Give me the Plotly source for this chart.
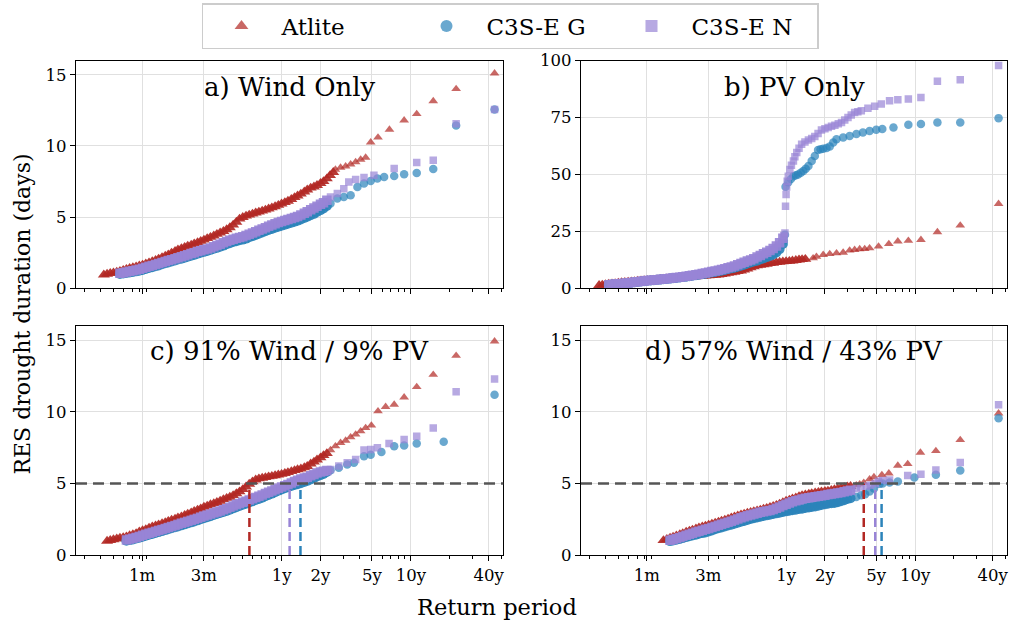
import plotly.graph_objects as go

# ======================= data =======================
# return period (years) sampling grid used for the densely populated part of each curve
rp_grid = [0.0355, 0.0376, 0.0398, 0.0422, 0.0447, 0.0473, 0.0501, 0.0531, 0.0562, 0.0596,
           0.0631, 0.0668, 0.0708, 0.0750, 0.0794, 0.0841, 0.0891, 0.0944, 0.100, 0.106,
           0.112, 0.119, 0.126, 0.133, 0.141, 0.150, 0.158, 0.168, 0.178, 0.188,
           0.200, 0.211, 0.224, 0.237, 0.251, 0.266, 0.282, 0.299, 0.316, 0.335,
           0.355, 0.376, 0.398, 0.422, 0.447, 0.473, 0.501, 0.531, 0.562, 0.596,
           0.631, 0.668, 0.708, 0.750, 0.794, 0.841, 0.891, 0.944, 1.00, 1.06,
           1.12, 1.19, 1.26, 1.33, 1.41, 1.50, 1.58, 1.68, 1.78, 1.88,
           2.00, 2.11, 2.24, 2.37, 2.51, 2.66, 2.82, 2.99, 3.16]

series_names = ["Atlite", "C3S-E G", "C3S-E N"]

# ---- a) Wind Only ----
a_atlite_from = 0.0422
a_atlite_dense = [0.95, 1.0, 1.05, 1.1, 1.14, 1.19, 1.27, 1.34, 1.4, 1.46,
                  1.52, 1.58, 1.64, 1.72, 1.8, 1.88, 1.97, 2.06, 2.17, 2.26,
                  2.36, 2.48, 2.6, 2.7, 2.8, 2.89, 2.97, 3.05, 3.13, 3.22,
                  3.31, 3.4, 3.5, 3.59, 3.69, 3.8, 3.9, 4.0, 4.13, 4.27,
                  4.45, 4.65, 4.87, 4.99, 5.08, 5.15, 5.22, 5.3, 5.36, 5.43,
                  5.5, 5.58, 5.66, 5.74, 5.84, 5.93, 6.03, 6.13, 6.25, 6.38,
                  6.5, 6.63, 6.78, 6.92, 7.05, 7.13, 7.23, 7.37, 7.51, 7.7,
                  7.93, 8.15]
a_atlite_tail_rp = [2.61, 2.86, 3.13, 3.42, 3.74, 4.09, 4.47, 4.89, 5.57, 6.83, 8.87, 11.1, 14.9, 22.4, 44.4]
a_atlite_tail_days = [8.34, 8.48, 8.57, 8.71, 8.87, 9.04, 9.18, 10.25, 10.6, 11.15, 11.8, 12.25, 13.15, 14.0, 15.1]

a_g_from = 0.0562
a_g_dense = [1.0, 1.04, 1.07, 1.11, 1.15, 1.19, 1.24, 1.29, 1.36, 1.42,
             1.48, 1.55, 1.61, 1.69, 1.76, 1.82, 1.89, 1.96, 2.02, 2.08,
             2.15, 2.22, 2.29, 2.35, 2.43, 2.5, 2.56, 2.62, 2.7, 2.78,
             2.84, 2.92, 3.0, 3.09, 3.17, 3.25, 3.31, 3.37, 3.42, 3.49,
             3.58, 3.66, 3.75, 3.84, 3.92, 4.01, 4.09, 4.17, 4.25, 4.33,
             4.4, 4.47, 4.54, 4.61, 4.68, 4.75, 4.84, 4.94, 5.03, 5.13,
             5.23, 5.36, 5.48, 5.61, 5.78]
a_g_tail_rp = [2.39, 2.70, 3.03, 3.42, 3.86, 4.34, 4.89, 5.51, 6.21, 7.43, 8.87, 11.1, 14.9, 22.4, 44.4]
a_g_tail_days = [5.96, 6.3, 6.42, 6.54, 7.12, 7.36, 7.54, 7.71, 7.82, 7.89, 8.01, 8.1, 8.38, 11.44, 12.56]

a_n_from = 0.0562
a_n_dense = [1.06, 1.1, 1.15, 1.19, 1.24, 1.29, 1.34, 1.4, 1.47, 1.54,
             1.6, 1.67, 1.74, 1.82, 1.89, 1.95, 2.01, 2.08, 2.15, 2.22,
             2.29, 2.36, 2.44, 2.5, 2.58, 2.64, 2.7, 2.76, 2.83, 2.92,
             3.0, 3.1, 3.2, 3.29, 3.37, 3.45, 3.52, 3.57, 3.62, 3.71,
             3.8, 3.89, 3.98, 4.07, 4.16, 4.26, 4.35, 4.44, 4.53, 4.62,
             4.7, 4.77, 4.84, 4.91, 4.97, 5.04, 5.15, 5.27, 5.38, 5.52,
             5.64, 5.77, 5.9, 6.01, 6.18]
a_n_tail_rp = [2.39, 2.70, 3.03, 3.31, 3.74, 4.34, 5.18, 7.43, 11.1, 14.9, 22.4, 44.4]
a_n_tail_days = [6.42, 6.66, 7.0, 7.47, 7.64, 7.78, 7.94, 8.41, 8.83, 8.99, 11.56, 12.56]

# ---- b) PV Only ----
b_atlite_from = 0.0355
b_atlite_dense = [1.3, 1.5, 1.7, 1.85, 2.0, 2.15, 2.3, 2.5, 2.63, 2.77,
                  2.9, 3.02, 3.15, 3.28, 3.38, 3.47, 3.57, 3.68, 3.8, 3.92,
                  4.04, 4.18, 4.32, 4.42, 4.48, 4.53, 4.59, 4.68, 4.8, 4.97,
                  5.1, 5.2, 5.34, 5.47, 5.6, 5.7, 5.79, 5.9, 6.1, 6.36,
                  6.63, 6.86, 7.08, 7.38, 7.69, 8.07, 8.53, 9.05, 9.55, 9.92,
                  10.2, 10.42, 10.66, 10.9, 11.08, 11.34, 11.53, 11.68, 11.8, 11.92,
                  12.06, 12.27, 12.48, 12.65, 12.8]
b_atlite_tail_rp = [1.62, 1.72, 1.94, 2.18, 2.46, 2.77, 3.11, 3.40, 3.72, 4.07, 4.44, 5.21, 6.26, 7.35, 8.87, 11.1, 14.9, 22.4, 44.4]
b_atlite_tail_days = [13.2, 13.9, 14.7, 15.1, 15.4, 15.7, 16.6, 16.9, 17.2, 17.3, 17.6, 18.4, 19.5, 20.6, 20.9, 21.3, 24.7, 27.6, 37.1]

b_g_from = 0.0422
b_g_dense = [1.45, 1.62, 1.75, 1.88, 2.0, 2.12, 2.25, 2.45, 2.65, 2.82,
             2.97, 3.12, 3.29, 3.45, 3.58, 3.7, 3.82, 3.94, 4.08, 4.25,
             4.41, 4.57, 4.75, 4.91, 5.09, 5.32, 5.56, 5.77, 5.97, 6.18,
             6.42, 6.72, 6.95, 7.2, 7.48, 7.75, 8.08, 8.42, 8.75, 9.07,
             9.5, 9.93, 10.38, 10.85, 11.3, 11.75, 12.1, 12.7, 13.15, 13.7,
             14.2, 14.87, 15.75, 17.2, 19.5]
b_g_tail_rp = [0.96, 0.98, 0.99, 1.04, 1.09, 1.14, 1.19, 1.24, 1.30, 1.36,
               1.42, 1.49, 1.58, 1.67, 1.77, 1.85, 1.94, 2.06, 2.18, 2.32,
               2.46, 2.77, 3.11, 3.51, 3.94, 4.44, 5.0, 5.57, 6.8, 8.87,
               11.1, 14.9, 22.4, 44.4]
b_g_tail_days = [21.0, 23.5, 44.6, 46.6, 48.0, 49.2, 49.6, 50.0, 50.7, 51.5,
                 52.5, 53.7, 55.9, 58.1, 60.7, 61.0, 61.3, 61.6, 62.2, 64.0,
                 65.4, 66.2, 66.9, 67.7, 68.4, 69.1, 69.6, 69.9, 70.6, 71.8,
                 72.1, 72.8, 72.8, 74.7]

b_n_from = 0.0422
b_n_dense = [1.55, 1.72, 1.86, 1.98, 2.1, 2.22, 2.37, 2.55, 2.75, 2.92,
             3.07, 3.22, 3.39, 3.55, 3.68, 3.8, 3.92, 4.04, 4.18, 4.38,
             4.57, 4.72, 4.9, 5.06, 5.25, 5.47, 5.75, 6.0, 6.22, 6.48,
             6.73, 7.0, 7.33, 7.6, 7.88, 8.22, 8.6, 9.0, 9.35, 9.77,
             10.35, 10.92, 11.47, 11.97, 12.44, 13.0, 13.75, 14.4, 15.2, 15.85,
             16.6, 17.5, 18.6, 20.0, 22.0]
b_n_tail_rp = [0.96, 0.98, 0.99, 1.0, 1.01, 1.02, 1.04, 1.07, 1.10, 1.14,
               1.17, 1.21, 1.26, 1.32, 1.40, 1.49, 1.58, 1.67, 1.77, 1.88,
               2.0, 2.12, 2.25, 2.39, 2.54, 2.69, 2.85, 3.02, 3.2, 3.40,
               3.6, 3.83, 4.31, 4.86, 5.47, 6.34, 7.35, 8.87, 11.1, 14.9,
               22.4, 44.4]
b_n_tail_days = [23.2, 24.3, 36.0, 41.2, 44.5, 47.0, 49.2, 52.2, 54.0, 55.9,
                 57.8, 59.6, 61.5, 63.2, 64.2, 65.1, 65.8, 66.6, 68.0, 69.5,
                 70.0, 70.6, 71.1, 71.6, 72.2, 72.8, 73.9, 75.0, 76.1, 77.2,
                 77.5, 77.9, 79.0, 79.9, 80.9, 82.3, 82.8, 83.1, 83.8, 90.9,
                 91.6, 97.8]

# ---- c) 91% Wind / 9% PV ----
c_atlite_from = 0.0447
c_atlite_dense = [0.97, 1.03, 1.08, 1.13, 1.18, 1.23, 1.28, 1.36, 1.43, 1.51,
                  1.62, 1.71, 1.79, 1.88, 1.97, 2.05, 2.12, 2.2, 2.27, 2.36,
                  2.44, 2.52, 2.6, 2.68, 2.77, 2.86, 2.96, 3.05, 3.15, 3.24,
                  3.35, 3.43, 3.52, 3.6, 3.68, 3.77, 3.88, 3.97, 4.05, 4.16,
                  4.29, 4.42, 4.58, 4.76, 4.96, 5.12, 5.25, 5.33, 5.38, 5.42,
                  5.47, 5.51, 5.55, 5.6, 5.65, 5.71, 5.77, 5.84, 5.91, 5.97,
                  6.02, 6.11, 6.2, 6.37, 6.5, 6.65, 6.8, 6.96, 7.1]
c_atlite_tail_rp = [2.39, 2.61, 2.86, 3.13, 3.42, 3.74, 4.09, 4.47, 4.95, 5.57, 6.38, 7.43, 8.87, 11.1, 14.9, 22.4, 44.4]
c_atlite_tail_days = [7.33, 7.6, 7.84, 8.0, 8.23, 8.42, 8.65, 8.88, 9.05, 10.05, 10.35, 10.51, 11.02, 11.74, 12.6, 13.93, 14.93]

c_g_from = 0.0631
c_g_dense = [0.99, 1.04, 1.09, 1.15, 1.2, 1.27, 1.34, 1.41, 1.47, 1.54,
             1.6, 1.67, 1.74, 1.8, 1.87, 1.94, 2.0, 2.07, 2.14, 2.21,
             2.28, 2.34, 2.42, 2.5, 2.57, 2.64, 2.71, 2.79, 2.86, 2.93,
             3.0, 3.08, 3.17, 3.26, 3.34, 3.42, 3.51, 3.58, 3.67, 3.75,
             3.84, 3.92, 4.0, 4.1, 4.19, 4.29, 4.39, 4.49, 4.58, 4.67,
             4.74, 4.82, 4.89, 4.95, 5.02, 5.1, 5.18, 5.28, 5.38, 5.48,
             5.57, 5.66, 5.8]
c_g_tail_rp = [2.39, 2.77, 3.22, 3.63, 4.34, 4.89, 5.92, 7.43, 8.87, 11.1, 17.95, 44.4]
c_g_tail_days = [5.93, 6.1, 6.33, 6.44, 6.9, 7.0, 7.2, 7.6, 7.65, 7.79, 7.91, 11.2]

c_n_from = 0.0631
c_n_dense = [1.05, 1.11, 1.17, 1.23, 1.3, 1.38, 1.45, 1.52, 1.58, 1.65,
             1.72, 1.78, 1.85, 1.92, 1.99, 2.06, 2.14, 2.22, 2.28, 2.35,
             2.42, 2.49, 2.56, 2.64, 2.72, 2.79, 2.86, 2.94, 3.0, 3.07,
             3.16, 3.24, 3.34, 3.43, 3.52, 3.6, 3.68, 3.75, 3.84, 3.93,
             4.02, 4.11, 4.2, 4.29, 4.38, 4.47, 4.56, 4.66, 4.75, 4.84,
             4.93, 5.03, 5.14, 5.23, 5.31, 5.38, 5.44, 5.54, 5.63, 5.73,
             5.8, 5.85, 5.9]
c_n_tail_rp = [2.39, 2.77, 3.22, 3.74, 4.34, 4.89, 5.51, 6.78, 8.87, 11.1, 14.9, 22.4, 44.4]
c_n_tail_days = [5.98, 6.21, 6.44, 6.67, 7.33, 7.37, 7.49, 7.79, 8.07, 8.3, 8.88, 11.4, 12.3]

# ---- d) 57% Wind / 43% PV ----
d_atlite_from = 0.112
d_atlite_dense = [1.02, 1.1, 1.18, 1.25, 1.34, 1.43, 1.51, 1.6, 1.68, 1.75,
                  1.83, 1.9, 1.97, 2.03, 2.1, 2.17, 2.24, 2.31, 2.38, 2.45,
                  2.52, 2.6, 2.67, 2.74, 2.81, 2.87, 2.93, 2.99, 3.04, 3.09,
                  3.15, 3.21, 3.27, 3.33, 3.4, 3.48, 3.57, 3.67, 3.77, 3.85,
                  3.93, 4.0, 4.08, 4.16, 4.21, 4.26, 4.3, 4.35, 4.39, 4.42,
                  4.45, 4.48, 4.53, 4.57, 4.62, 4.67, 4.72, 4.77, 4.8]
d_atlite_tail_rp = [3.5, 3.72, 4.0, 4.44, 4.8, 5.53, 6.26, 7.35, 8.77, 11.0, 14.5, 22.4, 44.4]
d_atlite_tail_days = [4.88, 4.95, 5.05, 5.3, 5.45, 5.59, 5.71, 6.25, 6.36, 7.16, 7.27, 8.04, 9.9]

d_g_from = 0.126
d_g_dense = [0.97, 1.01, 1.06, 1.12, 1.18, 1.25, 1.31, 1.36, 1.42, 1.48,
             1.53, 1.58, 1.65, 1.72, 1.8, 1.87, 1.93, 2.0, 2.06, 2.12,
             2.18, 2.25, 2.32, 2.38, 2.45, 2.52, 2.57, 2.62, 2.68, 2.72,
             2.77, 2.81, 2.86, 2.91, 2.96, 3.01, 3.05, 3.09, 3.13, 3.17,
             3.21, 3.24, 3.28, 3.32, 3.35, 3.39, 3.44, 3.49, 3.54, 3.58,
             3.61, 3.64, 3.68, 3.75, 3.83, 3.91, 3.96]
d_g_tail_rp = [3.5, 3.83, 4.1, 4.44, 4.8, 5.31, 5.6, 6.34, 7.35, 9.88, 14.5, 22.4, 44.4]
d_g_tail_days = [4.05, 4.18, 4.25, 4.43, 4.65, 4.97, 5.0, 5.06, 5.13, 5.41, 5.6, 5.9, 9.56]

d_n_from = 0.126
d_n_dense = [1.03, 1.09, 1.15, 1.22, 1.3, 1.38, 1.45, 1.52, 1.6, 1.66,
             1.73, 1.8, 1.85, 1.93, 2.0, 2.08, 2.15, 2.22, 2.29, 2.36,
             2.44, 2.52, 2.6, 2.67, 2.74, 2.8, 2.86, 2.92, 2.98, 3.02,
             3.07, 3.11, 3.18, 3.26, 3.36, 3.46, 3.55, 3.64, 3.72, 3.79,
             3.85, 3.91, 3.96, 4.0, 4.04, 4.07, 4.11, 4.14, 4.18, 4.22,
             4.26, 4.29, 4.33, 4.37, 4.42, 4.47, 4.52]
d_n_tail_rp = [3.5, 3.8, 4.2, 4.5, 4.91, 5.2, 5.6, 6.34, 8.77, 11.1, 14.5, 22.4, 44.4]
d_n_tail_days = [4.65, 4.75, 4.8, 4.88, 5.0, 5.15, 5.2, 5.24, 5.55, 5.64, 5.94, 6.46, 10.5]

# 5-day threshold and the return periods where each series reaches it (Atlite, G, N)
threshold_days = 5
c_cross_rp = [0.564, 1.40, 1.154]
d_cross_rp = [4.0, 5.5, 4.91]

panel_titles = ["a) Wind Only", "b) PV Only", "c) 91% Wind / 9% PV", "d) 57% Wind / 43% PV"]
x_tickvals = [1 / 12, 0.25, 1, 2, 5, 10, 40]
x_ticktext = ["1m", "3m", "1y", "2y", "5y", "10y", "40y"]
y_ticks_days = [0, 5, 10, 15]
y_ticks_pv = [0, 25, 50, 75, 100]


# ======================= styling =======================
FONT = "DejaVu Serif"
colors = {"Atlite": "rgb(178,40,36)", "C3S-E G": "rgb(43,131,186)", "C3S-E N": "rgb(152,132,214)"}
symbols = {"Atlite": "triangle-up", "C3S-E G": "circle", "C3S-E N": "square"}
size_tail = {"Atlite": 8.5, "C3S-E G": 8.5, "C3S-E N": 7.5}
size_dense = {"Atlite": 10.5, "C3S-E G": 10, "C3S-E N": 9.5}
opacity_tail, opacity_dense = 0.7, 0.92


def build(name, start_rp, dense, tail_rp, tail_days):
    """Dense part sits on rp_grid (starting at start_rp); tail points are listed explicitly."""
    k = rp_grid.index(start_rp)
    xs = rp_grid[k:k + len(dense)]
    if len(xs) != len(dense) or len(tail_rp) != len(tail_days):
        raise ValueError("length mismatch for " + name)
    sizes = [size_dense[name]] * len(dense) + [size_tail[name]] * len(tail_rp)
    opac = [opacity_dense] * len(dense) + [opacity_tail] * len(tail_rp)
    return xs + tail_rp, dense + tail_days, sizes, opac


panels = [
    ("x", "y", [build("Atlite", a_atlite_from, a_atlite_dense, a_atlite_tail_rp, a_atlite_tail_days),
                build("C3S-E G", a_g_from, a_g_dense, a_g_tail_rp, a_g_tail_days),
                build("C3S-E N", a_n_from, a_n_dense, a_n_tail_rp, a_n_tail_days)], None),
    ("x2", "y2", [build("Atlite", b_atlite_from, b_atlite_dense, b_atlite_tail_rp, b_atlite_tail_days),
                  build("C3S-E G", b_g_from, b_g_dense, b_g_tail_rp, b_g_tail_days),
                  build("C3S-E N", b_n_from, b_n_dense, b_n_tail_rp, b_n_tail_days)], None),
    ("x3", "y3", [build("Atlite", c_atlite_from, c_atlite_dense, c_atlite_tail_rp, c_atlite_tail_days),
                  build("C3S-E G", c_g_from, c_g_dense, c_g_tail_rp, c_g_tail_days),
                  build("C3S-E N", c_n_from, c_n_dense, c_n_tail_rp, c_n_tail_days)], c_cross_rp),
    ("x4", "y4", [build("Atlite", d_atlite_from, d_atlite_dense, d_atlite_tail_rp, d_atlite_tail_days),
                  build("C3S-E G", d_g_from, d_g_dense, d_g_tail_rp, d_g_tail_days),
                  build("C3S-E N", d_n_from, d_n_dense, d_n_tail_rp, d_n_tail_days)], d_cross_rp),
]

fig = go.Figure()
for pi, (xa, ya, data, cross) in enumerate(panels):
    for name, (rp, days, sizes, opac) in zip(series_names, data):
        fig.add_trace(go.Scatter(
            x=rp, y=days, mode="markers", name=name, xaxis=xa, yaxis=ya,
            legendgroup=name, showlegend=False,
            marker=dict(symbol=symbols[name], size=sizes, color=colors[name],
                        opacity=opac, line=dict(width=0)),
            hoverinfo="skip"))
    if cross is not None:
        for name, rpc in zip(series_names, cross):
            fig.add_trace(go.Scatter(
                x=[rpc, rpc], y=[0, threshold_days], mode="lines", xaxis=xa, yaxis=ya,
                showlegend=False, line=dict(color=colors[name], width=2.5, dash="9px,5px"),
                hoverinfo="skip"))
        fig.add_shape(type="line", xref=f"{xa} domain", yref=ya, x0=0, x1=1,
                      y0=threshold_days, y1=threshold_days, layer="above",
                      line=dict(color="rgb(85,85,85)", width=2.6, dash="11px,6px"))

# legend entries (no data drawn: empty traces carrying the marker style)
for name in series_names:
    fig.add_trace(go.Scatter(
        x=[None], y=[None], mode="markers", name=name, legendgroup=name, showlegend=True,
        marker=dict(symbol=symbols[name], size=12, color=colors[name], opacity=0.7,
                    line=dict(width=0))))

W, H = 1013, 629


def dx(p0, p1):
    return [p0 / W, p1 / W]


def dy(top, bottom):
    return [1 - bottom / H, 1 - top / H]


doms = {
    "x": (dx(76, 503.3), dy(60.5, 288.3)),
    "x2": (dx(581, 1007.3), dy(60.5, 288.3)),
    "x3": (dx(76, 503.3), dy(326, 555)),
    "x4": (dx(581, 1007.3), dy(326, 555)),
}

minor_vals = [0.03, 0.04, 0.05, 0.06, 0.07, 0.08, 0.09, 0.2, 0.3, 0.4, 0.5, 0.6, 0.7, 0.8, 0.9,
              2, 3, 4, 5, 6, 7, 8, 9, 20, 30, 50]

axis_common = dict(showline=True, linecolor="black", linewidth=1.3, mirror=True,
                   ticks="outside", tickcolor="black", tickwidth=1, ticklen=5,
                   showgrid=True, gridcolor="rgb(224,224,224)", gridwidth=1.3,
                   zeroline=False, tickfont=dict(family=FONT, size=16.5, color="black"))

layout_axes = {}
for i, (xa, ya) in enumerate([("x", "y"), ("x2", "y2"), ("x3", "y3"), ("x4", "y4")]):
    xd, yd = doms[xa]
    xkey = "xaxis" if xa == "x" else "xaxis" + xa[1:]
    ykey = "yaxis" if ya == "y" else "yaxis" + ya[1:]
    layout_axes[xkey] = dict(axis_common, type="log", range=[-1.59, 1.715], domain=xd,
                             anchor=ya, tickmode="array", tickvals=x_tickvals, ticktext=x_ticktext,
                             showticklabels=(i >= 2),
                             minor=dict(tickmode="array", tickvals=minor_vals, ticks="outside",
                                        ticklen=3, tickwidth=0.8, tickcolor="black", showgrid=False))
    if ya == "y2":
        yr, yt = [0, 100], y_ticks_pv
    else:
        yr, yt = [0, 16], y_ticks_days
    layout_axes[ykey] = dict(axis_common, range=yr, domain=yd, anchor=xa,
                             tickmode="array", tickvals=yt)

annotations = []
title_y = [0.885, 0.885, 0.893, 0.893]
for i, (xa, ya) in enumerate([("x", "y"), ("x2", "y2"), ("x3", "y3"), ("x4", "y4")]):
    annotations.append(dict(text=panel_titles[i], xref=f"{xa} domain", yref=f"{ya} domain",
                            x=0.5, y=title_y[i], xanchor="center", yanchor="middle",
                            showarrow=False, font=dict(family=FONT, size=26, color="black")))
annotations.append(dict(text="RES drought duration (days)", xref="paper", yref="paper",
                        x=22 / W, y=0.5, textangle=-90, xanchor="center", yanchor="middle",
                        showarrow=False, font=dict(family=FONT, size=22, color="black")))
annotations.append(dict(text="Return period", xref="paper", yref="paper",
                        x=497 / W, y=1 - 607 / H, xanchor="center", yanchor="middle",
                        showarrow=False, font=dict(family=FONT, size=22.5, color="black")))

fig.update_layout(
    width=W, height=H, autosize=False,
    margin=dict(l=0, r=0, t=0, b=0),
    paper_bgcolor="white", plot_bgcolor="white",
    template="none",
    font=dict(family=FONT, color="black"),
    showlegend=True,
    legend=dict(orientation="h", x=510 / W, y=1 - 3 / H, xanchor="center", yanchor="top",
                bgcolor="white", bordercolor="rgb(204,204,204)", borderwidth=1.5,
                font=dict(family=FONT, size=23, color="black"),
                itemwidth=70, entrywidth=120, entrywidthmode="pixels", itemsizing="trace"),
    annotations=annotations,
    **layout_axes,
)

fig.write_html("out.html")
